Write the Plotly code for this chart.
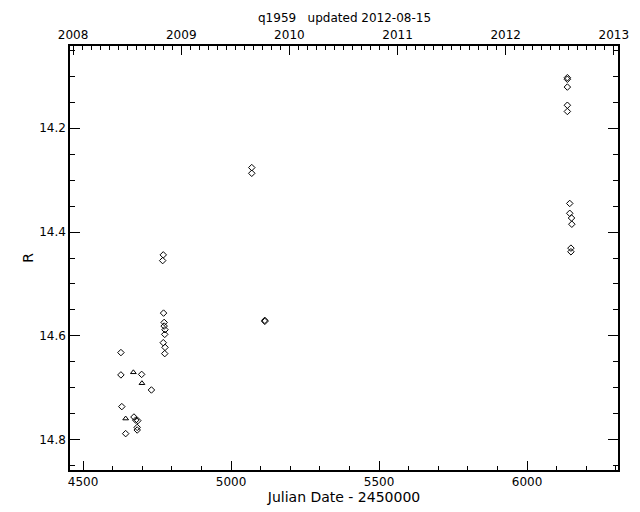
import plotly.graph_objects as go

# diamonds (psym 4)
diamond_jd = [4628, 4628, 4631, 4644, 4698, 4731, 4672, 4678, 4685, 4683, 4683,
              4771, 4769, 4772, 4774, 4774, 4777, 4776, 4771, 4777, 4776,
              5070, 5070, 5114, 5114,
              6136, 6136, 6136, 6136, 6136, 6144, 6144, 6150, 6151, 6148, 6148]
diamond_mag = [14.632, 14.675, 14.736, 14.788, 14.674, 14.704, 14.756, 14.762, 14.763, 14.776, 14.781,
               14.444, 14.455, 14.556, 14.574, 14.581, 14.588, 14.597, 14.613, 14.622, 14.634,
               14.276, 14.287, 14.570, 14.572,
               14.103, 14.106, 14.121, 14.156, 14.168, 14.345, 14.364, 14.373, 14.385, 14.431, 14.438]

# triangles (psym 5)
tri_jd = [4670, 4699, 4644]
tri_mag = [14.670, 14.691, 14.759]

year_ticks = [2008, 2009, 2010, 2011, 2012, 2013]

x_range = [4456, 6307]
y_range = [14.858, 14.042]

font = dict(family="DejaVu Sans", size=12, color="black")

fig = go.Figure()

fig.add_trace(go.Scatter(
    x=diamond_jd, y=diamond_mag, mode="markers",
    marker=dict(symbol="diamond-open", size=5, color="black", line=dict(width=1, color="black")),
    showlegend=False,
))
fig.add_trace(go.Scatter(
    x=tri_jd, y=tri_mag, mode="markers",
    marker=dict(symbol="triangle-up-open", size=5, color="black", line=dict(width=1, color="black")),
    showlegend=False,
))


# years axis on top: linear mapping from JD
def to_year(jd):
    return 2008 + (jd - 4466.5) / 365.25


# page body has an 8px margin, so the figure is 632x504
fig.update_layout(
    width=632, height=504,
    margin=dict(l=62, r=22, t=38, b=42),
    plot_bgcolor="white", paper_bgcolor="white",
    font=font,
    xaxis=dict(
        range=x_range, tickvals=[4500, 5000, 5500, 6000],
        ticks="inside", ticklen=9, tickwidth=1, tickcolor="black",
        minor=dict(ticks="inside", dtick=100, tick0=4500, ticklen=4, tickcolor="black"),
        showline=True, linecolor="black", linewidth=1.5,
        showgrid=False, zeroline=False, automargin=False,
        title=dict(text="Julian Date - 2450000", standoff=1),
    ),
    xaxis2=dict(
        overlaying="x", side="top",
        range=[to_year(x_range[0]), to_year(x_range[1])],
        tickvals=year_ticks,
        ticks="inside", ticklen=9, tickwidth=1, tickcolor="black",
        minor=dict(ticks="inside", dtick=1 / 12, tick0=2008, ticklen=4, tickcolor="black"),
        showline=True, linecolor="black", linewidth=1.5,
        showgrid=False, zeroline=False, automargin=False,
    ),
    yaxis=dict(
        range=y_range, tickvals=[14.2, 14.4, 14.6, 14.8], tickformat=".1f",
        ticks="inside", ticklen=10, tickwidth=1, tickcolor="black",
        minor=dict(ticks="inside", dtick=0.05, tick0=14.0, ticklen=5, tickcolor="black"),
        showline=True, linecolor="black", linewidth=1.5, mirror="ticks",
        showgrid=False, zeroline=False, automargin=False,
        title=dict(text="R", standoff=2),
    ),
    annotations=[dict(
        text="q1959\u00a0\u00a0\u00a0updated 2012-08-15",
        x=0.5, y=1.066, xref="paper", yref="paper",
        xanchor="center", yanchor="middle", showarrow=False, font=font,
    )],
)

# invisible trace to activate the top axis
fig.add_trace(go.Scatter(x=[to_year(4500)], y=[14.5], xaxis="x2", mode="markers",
                         marker=dict(opacity=0), showlegend=False, hoverinfo="skip"))

fig.write_html("out.html")
